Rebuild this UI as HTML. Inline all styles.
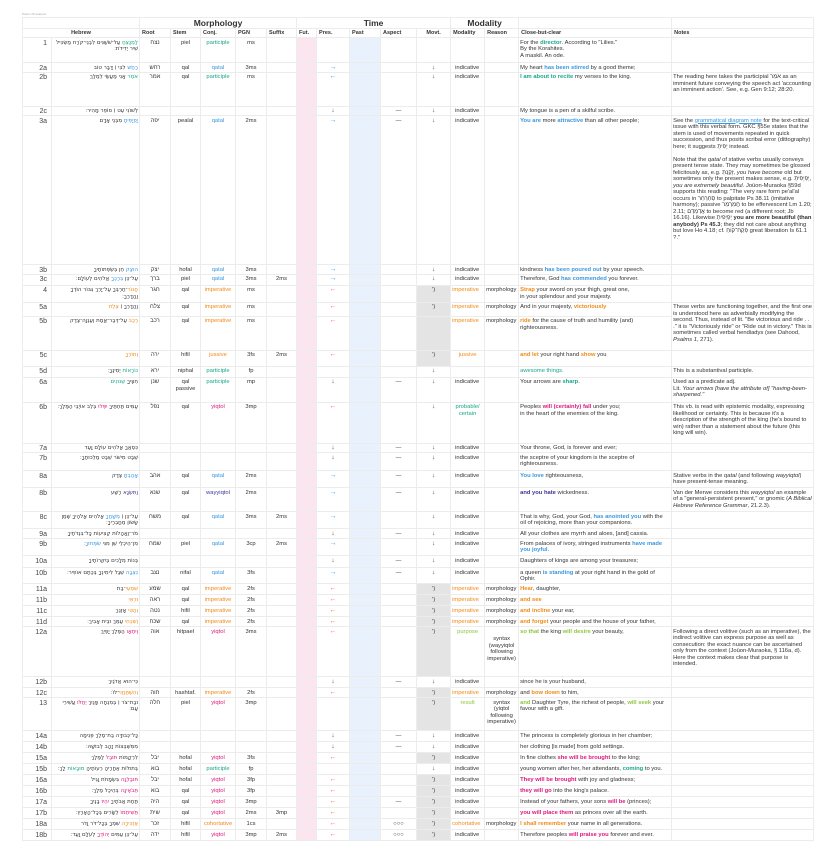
<!DOCTYPE html>
<html><head><meta charset="utf-8">
<style>
html,body{margin:0;padding:0;background:#fff;}
body{width:825px;height:852px;position:relative;overflow:hidden;font-family:"Liberation Sans","Noto Sans CJK SC",sans-serif;color:#333;}
.ttl{position:absolute;left:22px;top:12px;font-size:3px;color:#aaa;}
table{position:absolute;left:22px;top:17px;border-collapse:collapse;table-layout:fixed;width:791px;font-size:5.8px;line-height:6.5px;}
td{border:0.5px solid #ececec;vertical-align:top;padding:1.5px 1px 0 1px;overflow:hidden;white-space:normal;}
tr.g1 td{font-weight:bold;font-size:8.5px;text-align:center;vertical-align:middle;padding:0;line-height:10px;}
tr.g2 td{font-weight:bold;font-size:5.5px;vertical-align:middle;padding:0 2px;}
td.n{text-align:right;font-size:7px;padding-right:4px;line-height:7px;color:#444;}
td.h{text-align:right;direction:rtl;font-family:"DejaVu Sans",sans-serif;font-size:5.5px;}
td.c{text-align:center;}
td.fu{background:#fbe5ee;}
td.pa{background:#e9f2fc;}
td.gm{background:#e4e4e4;}
td.md{padding-left:4px;}
.p{color:#17a88a}.q{color:#3897e0}.i{color:#f08a18}.y{color:#e0157d}.w{color:#3c3592}.gr{color:#8cc63f}
b.p,b.q,b.i,b.y,b.w,b.gr{font-weight:bold}
.ar{color:#3897e0;font-size:7px}.al{color:#ee6650;font-size:7px}.ad{color:#444;font-size:6.5px}
.u{color:#3897e0;text-decoration:underline}
</style></head><body>
<div class="ttl">Psalm 45 analysis</div>
<table>
<colgroup>
<col style="width:29px"><col style="width:88px"><col style="width:31px"><col style="width:30px"><col style="width:35px"><col style="width:31px"><col style="width:30px"><col style="width:20px"><col style="width:33px"><col style="width:31px"><col style="width:36px"><col style="width:34px"><col style="width:34px"><col style="width:34px"><col style="width:153px"><col style="width:142px">
</colgroup>
<tr class="g1" style="height:11px"><td colspan="2"></td><td colspan="5">Morphology</td><td colspan="5">Time</td><td colspan="2">Modality</td><td></td><td></td></tr>
<tr class="g2" style="height:9px"><td colspan="2" style="text-align:center">Hebrew</td><td>Root</td><td>Stem</td><td>Conj.</td><td>PGN</td><td>Suffix</td><td>Fut.</td><td>Pres.</td><td>Past</td><td>Aspect</td><td style="text-align:center">Movt.</td><td>Modality</td><td>Reason</td><td>Close-but-clear</td><td>Notes</td></tr>

<tr style="height:25px"><td class="n">1</td><td class="h"><span class="p">לַמְנַצֵּחַ</span> עַל־שֹׁשַׁנִּים לִבְנֵי־קֹרַח מַשְׂכִּיל שִׁיר יְדִידֹת׃</td><td class="c">נצח</td><td class="c">piel</td><td class="c p">participle</td><td class="c">ms</td><td></td><td class="fu"></td><td></td><td class="pa"></td><td></td><td></td><td></td><td></td><td>For the <b class="p">director</b>. According to "Lilies."<br>By the Korahites.<br>A maskil. An ode.</td><td></td></tr>

<tr style="height:9px"><td class="n">2a</td><td class="h"><span class="q">רָחַשׁ</span> לִבִּי ׀ דָּבָר טוֹב</td><td class="c">רחש</td><td class="c">qal</td><td class="c q">qatal</td><td class="c">3ms</td><td></td><td class="fu"></td><td class="c ar">→</td><td class="pa"></td><td></td><td class="c ad">↓</td><td class="md">indicative</td><td></td><td>My heart <b class="q">has been stirred</b> by a good theme;</td><td></td></tr>

<tr style="height:34px"><td class="n">2b</td><td class="h"><span class="p">אֹמֵר</span> אָנִי מַעֲשַׂי לְמֶלֶךְ</td><td class="c">אמר</td><td class="c">qal</td><td class="c p">participle</td><td class="c">ms</td><td></td><td class="fu"></td><td class="c p" style="font-size:7px">←</td><td class="pa"></td><td></td><td class="c ad">↓</td><td class="md">indicative</td><td></td><td><b class="p">I am about to recite</b> my verses to the king.</td><td>The reading here takes the participial אֹמֵר as an imminent future conveying the speech act 'accounting an imminent action'. See, e.g. Gen 9:12; 28:20.</td></tr>

<tr style="height:9px"><td class="n">2c</td><td class="h">לְשׁוֹנִי עֵט ׀ סוֹפֵר מָהִיר׃</td><td></td><td></td><td></td><td></td><td></td><td class="fu"></td><td class="c ad">↓</td><td class="pa"></td><td class="c">—</td><td class="c ad">↓</td><td class="md">indicative</td><td></td><td>My tongue is a pen of a skilful scribe.</td><td></td></tr>

<tr style="height:149px"><td class="n">3a</td><td class="h"><span class="q">יָפְיָפִיתָ</span> מִבְּנֵי אָדָם</td><td class="c">יפה</td><td class="c">pealal</td><td class="c q">qatal</td><td class="c">2ms</td><td></td><td class="fu"></td><td class="c ar">→</td><td class="pa"></td><td class="c">—</td><td class="c ad">↓</td><td class="md">indicative</td><td></td><td><b class="q">You are</b> more <b class="q">attractive</b> than all other people;</td><td>See the <span class="u">grammatical diagram note</span> for the text-critical issue with this verbal form. GKC §55e states that the stem is used of movements repeated in quick succession, and thus posits scribal error (dittography) here; it suggests יָפִיתָ instead.<br><br>Note that the <i>qatal</i> of stative verbs usually conveys present tense state. They may sometimes be glossed felicitously as, e.g. זָקַנְתָּ, <i>you have become</i> old but sometimes only the present makes sense, e.g. יָפְיָפִיתָ, <i>you are extremely beautiful</i>. Joüon-Muraoka §59d supports this reading: "The very rare form pe'al'al occurs in סְחַרְחַר to palpitate Ps 38.11 (imitative harmony); passive חֳמַרְמַר to be effervescent Lm 1.20; 2.11; אֲדַמְדָּם to become red (a different root; Jb 16.16). Likewise יָפְיָפִיתָ <b>you are more beautiful (than anybody) Ps 45.3</b>; they did not care about anything but love Ho 4.18; cf. פְּקַח־קוֹחַ great liberation Is 61.1 ?."</td></tr>

<tr style="height:9px"><td class="n">3b</td><td class="h"><span class="q">הוּצַק</span> חֵן בְּשְׂפְתוֹתֶיךָ</td><td class="c">יצק</td><td class="c">hofal</td><td class="c q">qatal</td><td class="c">3ms</td><td></td><td class="fu"></td><td class="c ar">→</td><td class="pa"></td><td></td><td class="c ad">↓</td><td class="md">indicative</td><td></td><td>kindness <b class="q">has been poured out</b> by your speech.</td><td></td></tr>

<tr style="height:11px"><td class="n">3c</td><td class="h">עַל־כֵּן <span class="q">בֵּרַכְךָ</span> אֱלֹהִים לְעוֹלָם׃</td><td class="c">ברך</td><td class="c">piel</td><td class="c q">qatal</td><td class="c">3ms</td><td class="c">2ms</td><td class="fu"></td><td class="c ar">→</td><td class="pa"></td><td></td><td class="c ad">↓</td><td class="md">indicative</td><td></td><td>Therefore, God <b class="q">has commended</b> you forever.</td><td></td></tr>

<tr style="height:17px"><td class="n">4</td><td class="h"><span class="i">חֲגוֹר</span>־חַרְבְּךָ עַל־יָרֵךְ גִּבּוֹר הוֹדְךָ וַהֲדָרֶךָ׃</td><td class="c">חגר</td><td class="c">qal</td><td class="c i">imperative</td><td class="c">ms</td><td></td><td class="fu"></td><td class="c al">←</td><td class="pa"></td><td></td><td class="c gm">ʼ)</td><td class="i">imperative</td><td>morphology</td><td><b class="i">Strap</b> your sword on your thigh, great one,<br>in your splendour and your majesty.</td><td></td></tr>

<tr style="height:14px"><td class="n">5a</td><td class="h">וַהֲדָרְךָ ׀ <span class="i">צְלַח</span></td><td class="c">צלח</td><td class="c">qal</td><td class="c i">imperative</td><td class="c">ms</td><td></td><td class="fu"></td><td class="c al">←</td><td class="pa"></td><td></td><td class="c gm">ʼ)</td><td class="i">imperative</td><td>morphology</td><td>And in your majesty, <b class="i">victoriously</b></td><td rowspan="2">These verbs are functioning together, and the first one is understood here as adverbially modifying the second. Thus, instead of lit. "Be victorious and ride . . ." it is "Victoriously ride" or "Ride out in victory." This is sometimes called verbal hendiadys (see Dahood, <i>Psalms 1</i>, 271).</td></tr>

<tr style="height:34px"><td class="n">5b</td><td class="h"><span class="i">רְכַב</span> עַל־דְּבַר־אֱמֶת וְעַנְוָה־צֶדֶק</td><td class="c">רכב</td><td class="c">qal</td><td class="c i">imperative</td><td class="c">ms</td><td></td><td class="fu"></td><td class="c al">←</td><td class="pa"></td><td></td><td class="c gm"></td><td class="i">imperative</td><td>morphology</td><td><b class="i">ride</b> for the cause of truth and humility (and) righteousness.</td></tr>

<tr style="height:16px"><td class="n">5c</td><td class="h"><span class="i">וְתוֹרְךָ</span></td><td class="c">ירה</td><td class="c">hifil</td><td class="c i">jussive</td><td class="c">3fs</td><td class="c">2ms</td><td class="fu"></td><td class="c al">←</td><td class="pa"></td><td></td><td class="c gm">ʼ)</td><td class="c i">jussive</td><td></td><td><b class="i">and let</b> your right hand <b class="i">show</b> you</td><td></td></tr>

<tr style="height:11px"><td class="n">5d</td><td class="h"><span class="p">נוֹרָאוֹת</span> יְמִינֶךָ׃</td><td class="c">ירא</td><td class="c">niphal</td><td class="c p">participle</td><td class="c">fp</td><td></td><td class="fu"></td><td></td><td class="pa"></td><td></td><td class="c ad">↓</td><td></td><td></td><td><span class="p">awesome things.</span></td><td>This is a substantival participle.</td></tr>

<tr style="height:25px"><td class="n">6a</td><td class="h">חִצֶּיךָ <span class="p">שְׁנוּנִים</span></td><td class="c">שנן</td><td class="c">qal passive</td><td class="c p">participle</td><td class="c">mp</td><td></td><td class="fu"></td><td class="c ad">↓</td><td class="pa"></td><td class="c">—</td><td class="c ad">↓</td><td class="md">indicative</td><td></td><td>Your arrows are <b class="p">sharp</b>.</td><td>Used as a predicate adj.<br>Lit. <i>Your arrows [have the attribute of] "having-been-sharpened."</i></td></tr>

<tr style="height:41px"><td class="n">6b</td><td class="h">עַמִּים תַּחְתֶּיךָ <span class="y">יִפְּלוּ</span> בְּלֵב אוֹיְבֵי הַמֶּלֶךְ׃</td><td class="c">נפל</td><td class="c">qal</td><td class="c y">yiqtol</td><td class="c">3mp</td><td></td><td class="fu"></td><td class="c al">←</td><td class="pa"></td><td></td><td class="c ad">↓</td><td class="c p">probable/<br>certain</td><td></td><td>Peoples <b class="y">will (certainly) fall</b> under you;<br>in the heart of the enemies of the king.</td><td>This vb. is read with epistemic modality, expressing likelihood or certainty. This is because it's a description of the strength of the king (he's bound to win) rather than a statement about the future (this king will win).</td></tr>

<tr style="height:9px"><td class="n">7a</td><td class="h">כִּסְאֲךָ אֱלֹהִים עוֹלָם וָעֶד</td><td></td><td></td><td></td><td></td><td></td><td class="fu"></td><td class="c ad">↓</td><td class="pa"></td><td class="c">—</td><td class="c ad">↓</td><td class="md">indicative</td><td></td><td>Your throne, God, is forever and ever;</td><td></td></tr>

<tr style="height:18px"><td class="n">7b</td><td class="h">שֵׁבֶט מִישֹׁר שֵׁבֶט מַלְכוּתֶךָ׃</td><td></td><td></td><td></td><td></td><td></td><td class="fu"></td><td class="c ad">↓</td><td class="pa"></td><td class="c">—</td><td class="c ad">↓</td><td class="md">indicative</td><td></td><td>the sceptre of your kingdom is the sceptre of righteousness.</td><td></td></tr>

<tr style="height:17px"><td class="n">8a</td><td class="h"><span class="q">אָהַבְתָּ</span> צֶּדֶק</td><td class="c">אהב</td><td class="c">qal</td><td class="c q">qatal</td><td class="c">2ms</td><td></td><td class="fu"></td><td class="c ar">→</td><td class="pa"></td><td class="c">—</td><td class="c ad">↓</td><td class="md">indicative</td><td></td><td><b class="q">You love</b> righteousness,</td><td>Stative verbs in the <i>qatal</i> (and following <i>wayyiqtol</i>) have present-tense meaning.</td></tr>

<tr style="height:24px"><td class="n">8b</td><td class="h"><span class="w">וַתִּשְׂנָא</span> רֶשַׁע</td><td class="c">שנא</td><td class="c">qal</td><td class="c w">wayyiqtol</td><td class="c">2ms</td><td></td><td class="fu"></td><td class="c ar">→</td><td class="pa"></td><td class="c">—</td><td class="c ad">↓</td><td class="md">indicative</td><td></td><td><b class="w">and you hate</b> wickedness.</td><td>Van der Merwe considers this <i>wayyiqtol</i> an example of a "general-persistent present," or gnomic (<i>A Biblical Hebrew Reference Grammar</i>, 21.2.3).</td></tr>

<tr style="height:17px"><td class="n">8c</td><td class="h">עַל־כֵּן ׀ <span class="q">מְשָׁחֲךָ</span> אֱלֹהִים אֱלֹהֶיךָ שֶׁמֶן שָׂשׂוֹן מֵחֲבֵרֶיךָ׃</td><td class="c">משח</td><td class="c">qal</td><td class="c q">qatal</td><td class="c">3ms</td><td class="c">2ms</td><td class="fu"></td><td class="c ar">→</td><td class="pa"></td><td></td><td class="c ad">↓</td><td class="md">indicative</td><td></td><td>That is why, God, your God, <b class="q">has anointed you</b> with the oil of rejoicing, more than your companions.</td><td></td></tr>

<tr style="height:10px"><td class="n">9a</td><td class="h">מֹר־וַאֲהָלוֹת קְצִיעוֹת כָּל־בִּגְדֹתֶיךָ</td><td></td><td></td><td></td><td></td><td></td><td class="fu"></td><td class="c ad">↓</td><td class="pa"></td><td class="c">—</td><td class="c ad">↓</td><td class="md">indicative</td><td></td><td>All your clothes are myrrh and aloes, [and] cassia.</td><td></td></tr>

<tr style="height:17px"><td class="n">9b</td><td class="h">מִן־הֵיכְלֵי שֵׁן מִנִּי <span class="q">שִׂמְּחוּךָ׃</span></td><td class="c">שמח</td><td class="c">piel</td><td class="c q">qatal</td><td class="c">3cp</td><td class="c">2ms</td><td class="fu"></td><td class="c ar">→</td><td class="pa"></td><td></td><td class="c ad">↓</td><td class="md">indicative</td><td></td><td>From palaces of ivory, stringed instruments <b class="q">have made you joyful</b>.</td><td></td></tr>

<tr style="height:12px"><td class="n">10a</td><td class="h">בְּנוֹת מְלָכִים בְּיִקְּרוֹתֶיךָ</td><td></td><td></td><td></td><td></td><td></td><td class="fu"></td><td class="c ad">↓</td><td class="pa"></td><td class="c">—</td><td class="c ad">↓</td><td class="md">indicative</td><td></td><td>Daughters of kings are among your treasures;</td><td></td></tr>

<tr style="height:16px"><td class="n">10b</td><td class="h"><span class="q">נִצְּבָה</span> שֵׁגַל לִימִינְךָ בְּכֶתֶם אוֹפִיר׃</td><td class="c">נצב</td><td class="c">nifal</td><td class="c q">qatal</td><td class="c">3fs</td><td></td><td class="fu"></td><td class="c ar">→</td><td class="pa"></td><td class="c">—</td><td class="c ad">↓</td><td class="md">indicative</td><td></td><td>a queen <b class="q">is standing</b> at your right hand in the gold of Ophir.</td><td></td></tr>

<tr style="height:11px"><td class="n">11a</td><td class="h"><span class="i">שִׁמְעִי</span>־בַת</td><td class="c">שמע</td><td class="c">qal</td><td class="c i">imperative</td><td class="c">2fs</td><td></td><td class="fu"></td><td class="c al">←</td><td class="pa"></td><td></td><td class="c gm">ʼ)</td><td class="i">imperative</td><td>morphology</td><td><b class="i">Hear</b>, daughter,</td><td></td></tr>
<tr style="height:11px"><td class="n">11b</td><td class="h"><span class="i">וּרְאִי</span></td><td class="c">ראה</td><td class="c">qal</td><td class="c i">imperative</td><td class="c">2fs</td><td></td><td class="fu"></td><td class="c al">←</td><td class="pa"></td><td></td><td class="c gm">ʼ)</td><td class="i">imperative</td><td>morphology</td><td><b class="i">and see</b></td><td></td></tr>
<tr style="height:11px"><td class="n">11c</td><td class="h"><span class="i">וְהַטִּי</span> אָזְנֵךְ</td><td class="c">נטה</td><td class="c">hifil</td><td class="c i">imperative</td><td class="c">2fs</td><td></td><td class="fu"></td><td class="c al">←</td><td class="pa"></td><td></td><td class="c gm">ʼ)</td><td class="i">imperative</td><td>morphology</td><td><b class="i">and incline</b> your ear,</td><td></td></tr>
<tr style="height:10px"><td class="n">11d</td><td class="h"><span class="i">וְשִׁכְחִי</span> עַמֵּךְ וּבֵית אָבִיךְ׃</td><td class="c">שכח</td><td class="c">qal</td><td class="c i">imperative</td><td class="c">2fs</td><td></td><td class="fu"></td><td class="c al">←</td><td class="pa"></td><td></td><td class="c gm">ʼ)</td><td class="i">imperative</td><td>morphology</td><td><b class="i">and forget</b> your people and the house of your father,</td><td></td></tr>

<tr style="height:50px"><td class="n">12a</td><td class="h"><span class="y">וְיִתְאָו</span> הַמֶּלֶךְ יָפְיֵךְ</td><td class="c">אוה</td><td class="c">hitpael</td><td class="c y">yiqtol</td><td class="c">3ms</td><td></td><td class="fu"></td><td class="c al">←</td><td class="pa"></td><td></td><td class="c gm">ʼ)</td><td class="c gr">purpose</td><td class="c" style="padding-top:9px">syntax (wayyiqtol following imperative)</td><td><b class="gr">so that</b> the king <b class="gr">will desire</b> your beauty,</td><td>Following a direct volitive (such as an imperative), the indirect volitive can express purpose as well as consecution: the exact nuance can be ascertained only from the context (Joüon-Muraoka, § 116a, d). Here the context makes clear that purpose is intended.</td></tr>

<tr style="height:11px"><td class="n">12b</td><td class="h">כִּי־הוּא אֲדֹנַיִךְ</td><td></td><td></td><td></td><td></td><td></td><td class="fu"></td><td class="c ad">↓</td><td class="pa"></td><td class="c">—</td><td class="c ad">↓</td><td class="md">indicative</td><td></td><td>since he is your husband,</td><td></td></tr>
<tr style="height:10px"><td class="n">12c</td><td class="h"><span class="i">וְהִשְׁתַּחֲוִי</span>־לוֹ׃</td><td class="c">חוה</td><td class="c">hashtaf.</td><td class="c i">imperative</td><td class="c">2fs</td><td></td><td class="fu"></td><td class="c al">←</td><td class="pa"></td><td></td><td class="c gm">ʼ)</td><td class="i">imperative</td><td>morphology</td><td>and <b class="i">bow down</b> to him,</td><td></td></tr>

<tr style="height:33px"><td class="n">13</td><td class="h">וּבַת־צֹר ׀ בְּמִנְחָה פָּנַיִךְ <span class="y">יְחַלּוּ</span> עֲשִׁירֵי עָם׃</td><td class="c">חלה</td><td class="c">piel</td><td class="c y">yiqtol</td><td class="c">3mp</td><td></td><td class="fu"></td><td></td><td class="pa"></td><td></td><td class="c gm">ʼ)</td><td class="c gr">result</td><td class="c">syntax (yiqtol following imperative)</td><td><b class="gr">and</b> Daughter Tyre, the richest of people, <b class="gr">will seek</b> your favour with a gift.</td><td></td></tr>

<tr style="height:11px"><td class="n">14a</td><td class="h">כָּל־כְּבוּדָּה בַת־מֶלֶךְ פְּנִימָה</td><td></td><td></td><td></td><td></td><td></td><td class="fu"></td><td class="c ad">↓</td><td class="pa"></td><td class="c">—</td><td class="c ad">↓</td><td class="md">indicative</td><td></td><td>The princess is completely glorious in her chamber;</td><td></td></tr>
<tr style="height:11px"><td class="n">14b</td><td class="h">מִמִּשְׁבְּצוֹת זָהָב לְבוּשָׁהּ׃</td><td></td><td></td><td></td><td></td><td></td><td class="fu"></td><td class="c ad">↓</td><td class="pa"></td><td class="c">—</td><td class="c ad">↓</td><td class="md">indicative</td><td></td><td>her clothing [is made] from gold settings.</td><td></td></tr>
<tr style="height:11px"><td class="n">15a</td><td class="h">לִרְקָמוֹת <span class="y">תּוּבַל</span> לַמֶּלֶךְ</td><td class="c">יבל</td><td class="c">hofal</td><td class="c y">yiqtol</td><td class="c">3fs</td><td></td><td class="fu"></td><td class="c al">←</td><td class="pa"></td><td></td><td class="c gm">ʼ)</td><td class="md">indicative</td><td></td><td>In fine clothes <b class="y">she will be brought</b> to the king;</td><td></td></tr>
<tr style="height:11px"><td class="n">15b</td><td class="h">בְּתוּלוֹת אַחֲרֶיהָ רֵעוֹתֶיהָ <span class="p">מוּבָאוֹת</span> לָךְ׃</td><td class="c">בוא</td><td class="c">hofal</td><td class="c p">participle</td><td class="c">fp</td><td></td><td class="fu"></td><td></td><td class="pa"></td><td></td><td class="c ad">↓</td><td class="md">indicative</td><td></td><td>young women after her, her attendants, <b class="p">coming</b> to you.</td><td></td></tr>
<tr style="height:11px"><td class="n">16a</td><td class="h"><span class="y">תּוּבַלְנָה</span> בִּשְׂמָחֹת וָגִיל</td><td class="c">יבל</td><td class="c">hofal</td><td class="c y">yiqtol</td><td class="c">3fp</td><td></td><td class="fu"></td><td class="c al">←</td><td class="pa"></td><td></td><td class="c gm">ʼ)</td><td class="md">indicative</td><td></td><td><b class="y">They will be brought</b> with joy and gladness;</td><td></td></tr>
<tr style="height:11px"><td class="n">16b</td><td class="h"><span class="y">תְּבֹאֶינָה</span> בְּהֵיכַל מֶלֶךְ׃</td><td class="c">בוא</td><td class="c">qal</td><td class="c y">yiqtol</td><td class="c">3fp</td><td></td><td class="fu"></td><td class="c al">←</td><td class="pa"></td><td></td><td class="c gm">ʼ)</td><td class="md">indicative</td><td></td><td><b class="y">they will go</b> into the king's palace.</td><td></td></tr>
<tr style="height:11px"><td class="n">17a</td><td class="h">תַּחַת אֲבֹתֶיךָ <span class="y">יִהְיוּ</span> בָנֶיךָ</td><td class="c">היה</td><td class="c">qal</td><td class="c y">yiqtol</td><td class="c">3mp</td><td></td><td class="fu"></td><td class="c al">←</td><td class="pa"></td><td class="c">—</td><td class="c gm">ʼ)</td><td class="md">indicative</td><td></td><td>Instead of your fathers, your sons <b class="y">will be</b> (princes);</td><td></td></tr>
<tr style="height:11px"><td class="n">17b</td><td class="h"><span class="y">תְּשִׁיתֵמוֹ</span> לְשָׂרִים בְּכָל־הָאָרֶץ׃</td><td class="c">שית</td><td class="c">qal</td><td class="c y">yiqtol</td><td class="c">2ms</td><td class="c">3mp</td><td class="fu"></td><td class="c al">←</td><td class="pa"></td><td></td><td class="c gm">ʼ)</td><td class="md">indicative</td><td></td><td><b class="y">you will place them</b> as princes over all the earth.</td><td></td></tr>
<tr style="height:11px"><td class="n">18a</td><td class="h"><span class="i">אַזְכִּירָה</span> שִׁמְךָ בְּכָל־דֹּר וָדֹר</td><td class="c">זכר</td><td class="c">hifil</td><td class="c i">cohortative</td><td class="c">1cs</td><td></td><td class="fu"></td><td class="c al">←</td><td class="pa"></td><td class="c">○○○</td><td class="c gm">ʼ)</td><td class="i">cohortative</td><td>morphology</td><td><b class="i">I shall remember</b> your name in all generations.</td><td></td></tr>
<tr style="height:11px"><td class="n">18b</td><td class="h">עַל־כֵּן עַמִּים <span class="y">יְהוֹדֻךָ</span> לְעֹלָם וָעֶד׃</td><td class="c">ידה</td><td class="c">hifil</td><td class="c y">yiqtol</td><td class="c">3mp</td><td class="c">2ms</td><td class="fu"></td><td class="c al">←</td><td class="pa"></td><td class="c">○○○</td><td class="c gm">ʼ)</td><td class="md">indicative</td><td></td><td>Therefore peoples <b class="y">will praise you</b> forever and ever.</td><td></td></tr>
</table>
</body></html>
